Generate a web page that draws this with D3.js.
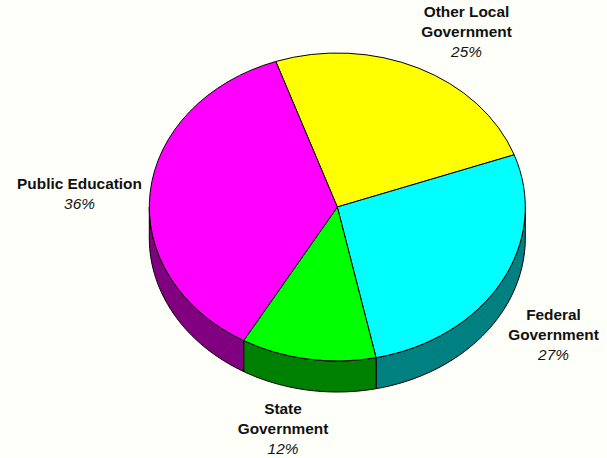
<!DOCTYPE html>
<html><head><meta charset="utf-8">
<script src="https://cdn.jsdelivr.net/npm/d3@7"></script>
<style>
html,body{margin:0;padding:0;background:#fffff9}
svg{display:block}
text{font-family:"Liberation Sans",Arial,sans-serif;fill:#111;text-anchor:middle}
.name{font-weight:bold;font-size:15.4px}
.pct{font-style:italic;font-size:15.4px}
</style></head><body>
<script>
const categories = ["Other Local Government","Federal Government","State Government","Public Education"];
const shares = [24.8,27.2,11.6,36.4];
const percentLabels = ["25%","27%","12%","36%"];
const nameLines = [["Other Local","Government"],["Federal","Government"],["State","Government"],["Public Education"]];
const topColors = ["#ffff00","#00ffff","#00ff00","#ff00ff"];
const sideColors = ["#808000","#008080","#008000","#800080"];

const W=607,H=458,cx=337.3,cy=207,rx=188,ry=154,depth=31;
const labelCenters=[[466.5,17],[553.5,320],[283,414],[79.5,189]];
const startDeg=-19.1;
const rad=d=>d*Math.PI/180;

const svg=d3.select("body").append("svg").attr("width",W).attr("height",H);
svg.append("rect").attr("width",W).attr("height",H).attr("fill","#fffff9");

const pie=d3.pie().sort(null).startAngle(rad(startDeg)).endAngle(rad(startDeg+360));
const arcs=pie(shares).map((d,i)=>({...d,i}));

const px=a=>cx+rx*Math.sin(a), py=a=>cy-ry*Math.cos(a);
const wall=d3.area().x(px).y0(py).y1(a=>py(a)+depth);

// side walls: only the front half of the ellipse is visible
arcs.forEach(d=>{
  for(const off of [0,2*Math.PI]){
    const a0=Math.max(d.startAngle+off,Math.PI/2), a1=Math.min(d.endAngle+off,3*Math.PI/2);
    if(a1<=a0) continue;
    const n=Math.max(2,Math.ceil((a1-a0)/rad(1)));
    const pts=d3.range(n+1).map(k=>a0+(a1-a0)*k/n);
    svg.append("path").attr("d",wall(pts)+"Z")
      .attr("fill",sideColors[d.i]).attr("stroke","#000").attr("stroke-width",1);
  }
});

const arc=d3.arc().innerRadius(0).outerRadius(rx);
svg.append("g").attr("transform",`translate(${cx},${cy}) scale(1,${ry/rx})`)
  .selectAll("path").data(arcs).join("path")
  .attr("d",arc).attr("fill",d=>topColors[d.i])
  .attr("stroke","#000").attr("stroke-width",1)
  .attr("vector-effect","non-scaling-stroke");

categories.forEach((c,i)=>{
  const [x,y]=labelCenters[i];
  const t=svg.append("text").attr("x",x).attr("y",y);
  nameLines[i].forEach((ln,k)=>t.append("tspan").attr("class","name").attr("x",x).attr("y",y+k*20).text(ln));
  t.append("tspan").attr("class","pct").attr("x",x).attr("y",y+nameLines[i].length*20).text(percentLabels[i]);
});
</script>
</body></html>
